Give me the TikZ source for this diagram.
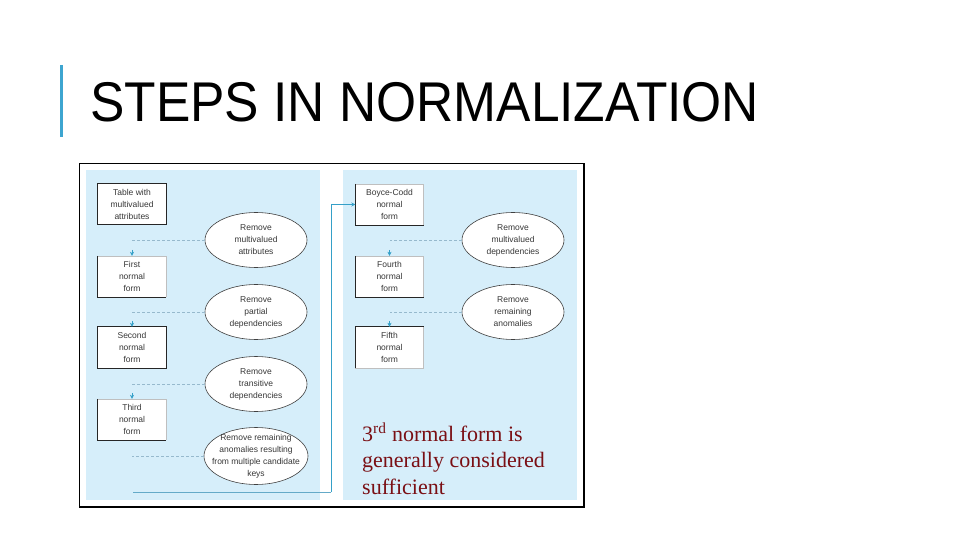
\documentclass[tikz,border=0pt]{standalone}
\usepackage{fontspec}
\setmainfont{Liberation Serif}
\newfontfamily\arialf{Liberation Sans}
\usetikzlibrary{shapes.geometric,arrows.meta}
\definecolor{panelblue}{RGB}{214,238,250}
\definecolor{barblue}{RGB}{61,165,208}
\definecolor{dashblue}{RGB}{150,185,205}
\definecolor{arrblue}{RGB}{53,160,200}
\definecolor{lineblue}{RGB}{100,170,200}
\definecolor{txtgray}{RGB}{55,55,55}
\definecolor{darkred}{RGB}{122,15,20}
\tikzset{
  formbox/.style={rectangle, fill=white, draw=none, minimum width=68pt, minimum height=41pt, inner sep=0pt, align=center, font=\arialf\fontsize{8.5}{12}\selectfont, text=txtgray},
  stepell/.style={ellipse, fill=white, draw=black!75, line width=0.6pt, minimum width=102pt, minimum height=55pt, inner sep=0pt, align=center, font=\arialf\fontsize{8.5}{12}\selectfont, text=txtgray},
  dashline/.style={draw=dashblue, line width=0.7pt, dash pattern=on 3pt off 2pt},
  arrtip/.style={-{Stealth[length=4pt,width=4pt]}, arrblue},
  boxedge/.style={draw=black!85, line width=0.7pt},
  lightedge/.style={draw=black!25, line width=0.5pt},
}
\begin{document}
\begin{tikzpicture}[x=1pt,y=-1pt]
\useasboundingbox (0,0) rectangle (960,540);
\fill[white] (0,0) rectangle (960,540);
% title
\fill[barblue] (59.5,65) rectangle (62.5,137);
\node[anchor=base west, inner sep=0pt, font=\arialf\fontsize{56}{60}\selectfont, text=black] (title) at (90,122) {\scalebox{0.92}[1]{STEPS IN NORMALIZATION}};
% frame and panels
\draw[black, line width=1.2pt, fill=white] (79.5,163.5) rectangle (584,507);
\fill[panelblue] (86,170) rectangle (320,500);
\fill[panelblue] (343,170) rectangle (577,500);
% left boxes
\node[formbox] (tbl) at (132,204) {Table with\\multivalued\\attributes};
\node[formbox] (nf1) at (132,276.5) {First\\normal\\form};
\node[formbox] (nf2) at (132,347.5) {Second\\normal\\form};
\node[formbox] (nf3) at (132,419.5) {Third\\normal\\form};
% right boxes
\node[formbox] (bcnf) at (389.5,204.5) {Boyce-Codd\\normal\\form};
\node[formbox] (nf4) at (389.5,276.5) {Fourth\\normal\\form};
\node[formbox] (nf5) at (389.5,347.5) {Fifth\\normal\\form};
% box edges
\draw[boxedge] (tbl.north west) rectangle (tbl.south east);
\draw[boxedge] (nf2.north west) rectangle (nf2.south east);
\foreach \b in {nf1,nf3,bcnf,nf4}{
  \draw[lightedge] (\b.north west) -- (\b.north east) -- (\b.south east);
  \draw[boxedge] (\b.north west) -- (\b.south west) -- (\b.south east);
}
\draw[lightedge] (nf5.north east) -- (nf5.south east) -- (nf5.south west);
\draw[boxedge] (nf5.south west) -- (nf5.north west) -- (nf5.north east);
% ellipses
\node[stepell] (e1) at (256,240) {Remove\\multivalued\\attributes};
\node[stepell] (e2) at (256,312) {Remove\\partial\\dependencies};
\node[stepell] (e3) at (256,384) {Remove\\transitive\\dependencies};
\node[stepell, minimum width=104pt, minimum height=57pt, inner xsep=-9.5pt, inner ysep=-3pt] (e4) at (256,456) {Remove remaining\\anomalies resulting\\from multiple candidate\\keys};
\node[stepell] (e5) at (513,240) {Remove\\multivalued\\dependencies};
\node[stepell] (e6) at (513,312) {Remove\\remaining\\anomalies};
% dashed connectors
\draw[dashline] (e1.west) -- (e1.west -| nf1.north);
\draw[dashline] (e2.west) -- (e2.west -| nf2.north);
\draw[dashline] (e3.west) -- (e3.west -| nf3.north);
\draw[dashline] (e4.west) -- (e4.west -| nf3.south);
\draw[dashline] (e5.west) -- (e5.west -| nf4.north);
\draw[dashline] (e6.west) -- (e6.west -| nf5.north);
\foreach \b in {nf1,nf2,nf3,nf4,nf5}{
  \draw[arrtip] ([yshift=6pt]\b.north) -- (\b.north);
}
% return line to BCNF
\coordinate (c1) at (133,492);
\coordinate (c2) at (331,492);
\draw[lineblue, line width=0.8pt] (c1) -- (c2);
\draw[dashblue!80!gray, line width=0.7pt, arrtip] (c2) |- (bcnf.west);
% note
\node[anchor=north west, inner sep=0pt, align=left, text=darkred, font=\fontsize{22}{26.5}\selectfont] (note) at (362,423) {3\textsuperscript{rd} normal form is\\generally considered\\sufficient};
\end{tikzpicture}
\end{document}
